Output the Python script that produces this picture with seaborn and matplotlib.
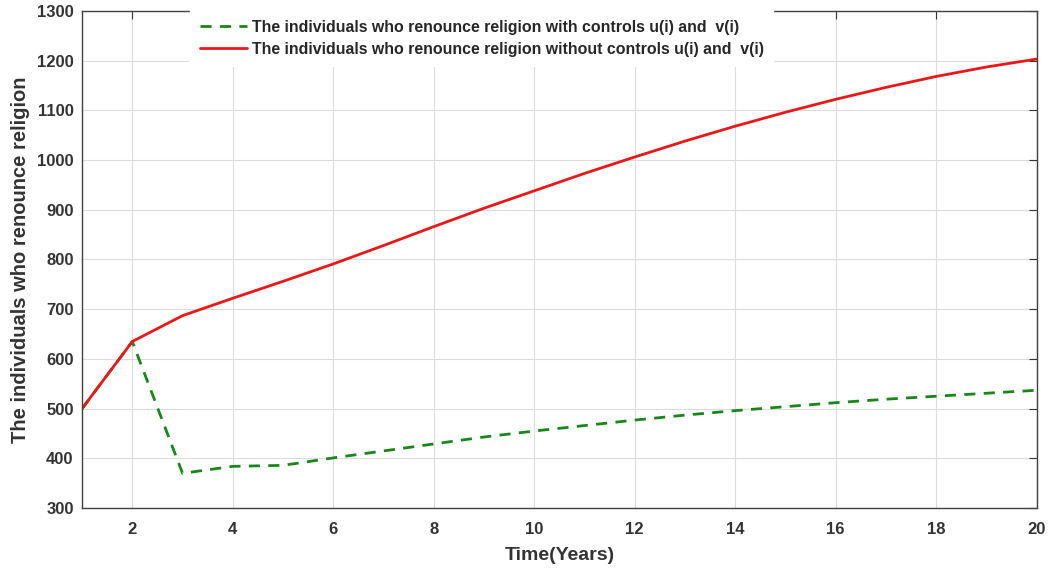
import pandas as pd
import matplotlib
matplotlib.use("Agg")
import matplotlib.pyplot as plt
import seaborn as sns

years = list(range(1, 21))
with_controls = [500, 635, 370, 384, 386, 401, 415, 429, 443, 455,
                 466, 477, 487, 496, 504, 512, 519, 525, 531, 537]
without_controls = [500, 635, 687, 722, 756, 791, 828, 866, 903, 938,
                    973, 1006, 1038, 1068, 1096, 1122, 1146, 1168, 1187, 1203]

label_with = "The individuals who renounce religion with controls u(i) and  v(i)"
label_without = "The individuals who renounce religion without controls u(i) and  v(i)"

df = pd.DataFrame({"year": years, "with": with_controls, "without": without_controls})

sns.set_style("whitegrid")
plt.rcParams["font.family"] = ["Liberation Sans", "DejaVu Sans"]
plt.rcParams["font.weight"] = "bold"

fig = plt.figure(figsize=(10.56, 5.69), dpi=100)
ax = fig.add_axes([0.0777, 0.107, 0.904, 0.874])

sns.lineplot(data=df, x="year", y="with", ax=ax, color="#1a861a", lw=2,
             label=label_with, dashes=False)
ax.lines[-1].set_dashes((4, 3))
sns.lineplot(data=df, x="year", y="without", ax=ax, color="#e81818", lw=2,
             label=label_without)

ax.set_xlim(1, 20)
ax.set_ylim(300, 1300)
ax.set_xticks(range(2, 21, 2))
ax.set_yticks(range(300, 1301, 100))
ax.grid(True, color="#dcdcdc", lw=0.8)
for s in ax.spines.values():
    s.set_color("#404040")
    s.set_linewidth(1.0)
ax.tick_params(direction="in", length=6, color="#333333", top=True, right=True,
               labelsize=12, labelcolor="#333333")
ax.tick_params(axis="x", pad=10)
ax.tick_params(axis="y", pad=6)
for t in ax.get_xticklabels() + ax.get_yticklabels():
    t.set_fontweight("bold")

ax.set_xlabel("Time(Years)", fontsize=14, fontweight="bold", color="#333333",
              labelpad=7)
ax.set_ylabel("The individuals who renounce religion", fontsize=14.5,
              fontweight="bold", color="#333333", labelpad=5)

leg = ax.legend(loc="upper left", bbox_to_anchor=(0.114, 1.0), frameon=True,
                fontsize=11.4, handlelength=3.0, handletextpad=0.3,
                borderaxespad=0.15, labelspacing=0.45)
leg.get_frame().set_edgecolor("white")
leg.get_frame().set_alpha(1)
leg.get_frame().set_boxstyle("square", pad=0.2)
for t in leg.get_texts():
    t.set_fontweight("bold")

fig.savefig("out.png", dpi=100)
